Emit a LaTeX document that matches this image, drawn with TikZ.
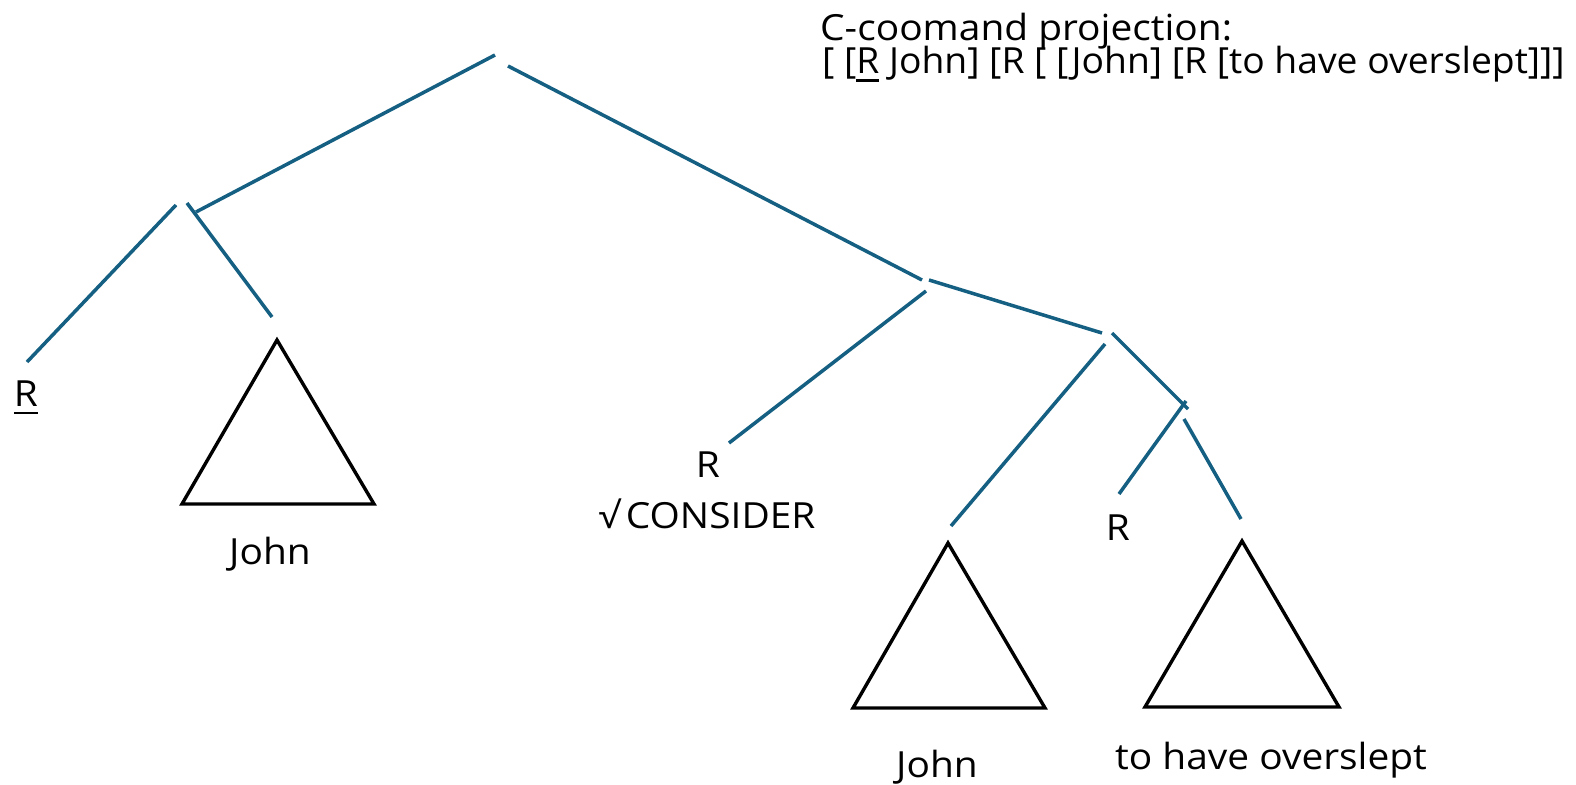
\documentclass[tikz,border=0pt]{standalone}
\usepackage{fontspec}
\setmainfont{Open Sans}[FakeStretch=1.08]
\newfontfamily\narrowsans{Open Sans}[FakeStretch=1.035]
\definecolor{branchblue}{HTML}{156082}
% underline drawn as a rule a little below the baseline
\newcommand\ulmark[1]{\setbox0\hbox{#1}\rlap{\rule[-8pt]{\wd0}{2.5pt}}\box0}
\begin{document}
\begin{tikzpicture}[x=1pt,y=-1pt,
  branch/.style={draw=branchblue, line width=3.5pt},
  tri/.style={draw=black, line width=3.4pt, line join=miter},
  lbl/.style={font=\fontsize{36}{42}\selectfont, inner sep=0pt, anchor=base}]
\useasboundingbox (0,0) rectangle (1576,784);

% branch end points
\coordinate (rootL) at (495,55);
\coordinate (rootR) at (508,66);
\coordinate (subjTop) at (196,212);
\coordinate (subjLtop) at (176,205);
\coordinate (subjRtop) at (187,203);
\coordinate (subjLbot) at (27,362);
\coordinate (subjRbot) at (272,317);
\coordinate (vpTopL) at (922,280);
\coordinate (vpTopR) at (929,280);
\coordinate (vpDown) at (926,291);
\coordinate (rootEnd) at (729,443);
\coordinate (scEndL) at (1102,333);
\coordinate (scTopR) at (1112,333);
\coordinate (scDown) at (1105,344);
\coordinate (scJohn) at (951,526);
\coordinate (infEnd) at (1188,409);
\coordinate (infDown) at (1186,401);
\coordinate (infR) at (1184,419);
\coordinate (infRbot) at (1119,494);
\coordinate (infTri) at (1241,519);

% tree branches
\draw[branch] (rootL) -- (subjTop);
\draw[branch] (rootR) -- (vpTopL);
\draw[branch] (subjLtop) -- (subjLbot);
\draw[branch] (subjRtop) -- (subjRbot);
\draw[branch] (vpDown) -- (rootEnd);
\draw[branch] (vpTopR) -- (scEndL);
\draw[branch] (scDown) -- (scJohn);
\draw[branch] (scTopR) -- (infEnd);
\draw[branch] (infDown) -- (infRbot);
\draw[branch] (infR) -- (infTri);

% phrase triangles
\draw[tri] (182,504) -- (277,340) -- (374,504) -- cycle;
\draw[tri] (853,708) -- (948,543) -- (1045,708) -- cycle;
\draw[tri] (1145,707) -- (1242,541) -- (1339,707) -- cycle;

% labels
\node[lbl] (rU) at (26,406) {\ulmark{R}};
\node[lbl] (john1) at (270,564) {John};
\node[lbl] (rRoot) at (708,477) {R};
\node[lbl] (consider) at (707,528) {√\,CONSIDER};
\node[lbl] (rInf) at (1118,540) {R};
\node[lbl] (john2) at (937,777) {John};
\node[lbl] (overslept) at (1271,769) {to have overslept};

\node[lbl, anchor=base west] (title) at (820,41) {C-coomand projection:};
\node[lbl, anchor=base west] (bracket) at (822,74)
  {\narrowsans [ [\ulmark{R}\ John] [R [ [John] [R [to have overslept]]]};
\end{tikzpicture}
\end{document}
